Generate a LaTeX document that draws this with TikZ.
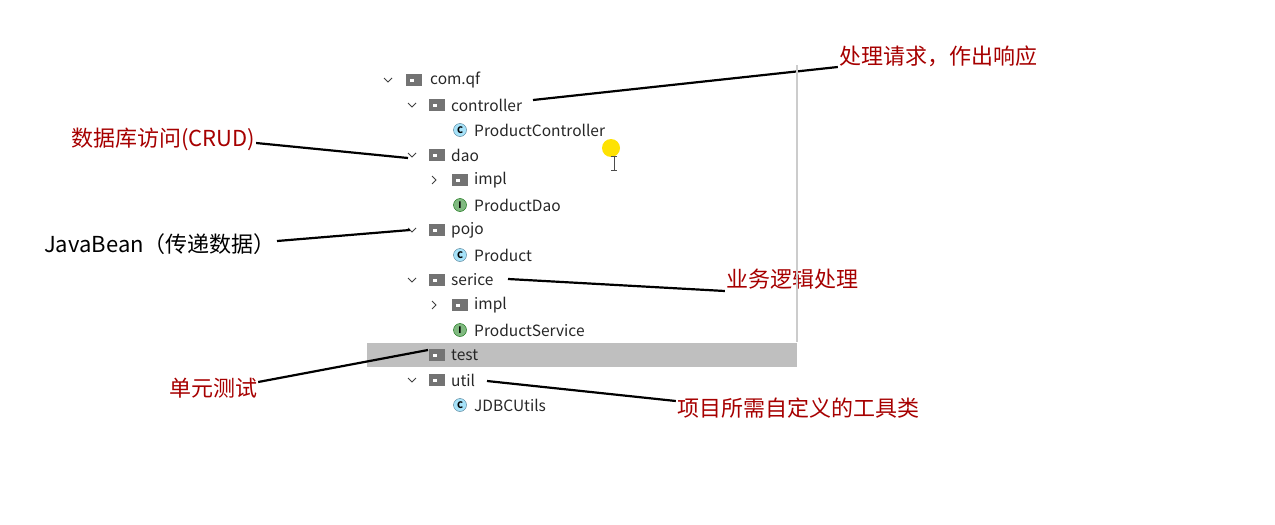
\documentclass[tikz,border=0pt]{standalone}
\usepackage{fontspec}
\setmainfont{Noto Sans CJK SC}
\begin{document}
\begin{tikzpicture}[x=1pt,y=-1pt,
  item/.style={anchor=west,font=\fontsize{15.5}{17}\selectfont,text=black!85,inner sep=0pt},
  lbl/.style={font=\fontsize{22}{24}\selectfont,text=red!65!black,inner sep=1pt},
  ptr/.style={line width=2.2pt,black},
  chev/.style={line width=1pt,black!75},
  cicon/.style={circle,draw=cyan!50!black,fill=cyan!35,minimum size=13pt,inner sep=0pt,font=\bfseries\fontsize{9}{9}\selectfont},
  iicon/.style={circle,draw=green!40!black,fill=green!45!black!50,minimum size=13pt,inner sep=0pt,font=\bfseries\fontsize{9}{9}\selectfont}]
\useasboundingbox (0,0) rectangle (1275,525);
\fill[black!25] (367,343) rectangle (797,367);
\newcommand{\fldr}[2]{\fill[black!55] (#1-8,#2-6) rectangle (#1+8,#2+6); \fill[white] (#1-4,#2-1) rectangle (#1,#2+2);}
\newcommand{\dchev}[2]{\draw[chev] (#1-4,#2-2) -- (#1,#2+2) -- (#1+4,#2-2);}
\newcommand{\rchev}[2]{\draw[chev] (#1-2,#2-4) -- (#1+2,#2) -- (#1-2,#2+4);}
\dchev{388}{80}\fldr{414}{80}\node[item] (comqf) at (430,80) {com.qf};
\dchev{412}{105}\fldr{437}{105}\node[item] (ctrl) at (451,105) {controller};
\node[cicon] (ic1) at (460,130) {C};\node[item] (pc) at (474,130) {ProductController};
\dchev{412}{155}\fldr{437}{155}\node[item] (dao) at (451,155) {dao};
\rchev{434}{180}\fldr{460}{180}\node[item] (impl1) at (474,180) {impl};
\node[iicon] (ic2) at (460,205) {I};\node[item] (pd) at (474,205) {ProductDao};
\dchev{412}{230}\fldr{437}{230}\node[item] (pojo) at (451,230) {pojo};
\node[cicon] (ic3) at (460,255) {C};\node[item] (prod) at (474,255) {Product};
\dchev{412}{280}\fldr{437}{280}\node[item] (serice) at (451,280) {serice};
\rchev{434}{305}\fldr{460}{305}\node[item] (impl2) at (474,305) {impl};
\node[iicon] (ic4) at (460,330) {I};\node[item] (ps) at (474,330) {ProductService};
\fldr{437}{355}\node[item] (test) at (451,355) {test};
\dchev{412}{380}\fldr{437}{380}\node[item] (util) at (451,380) {util};
\node[cicon] (ic5) at (460,405) {C};\node[item] (jdbc) at (474,405) {JDBCUtils};
\fill[yellow!85!orange] (611,148) circle (9);
\draw[black!70,line width=0.8pt] (614,156) -- (614,170) (611,156) -- (617,156) (611,170) -- (617,170);
\node[lbl] (l1) at (938,56) {处理请求，作出响应};
\node[lbl] (l2) at (163,139) {数据库访问(CRUD)};
\node[lbl,text=black] (l3) at (160,244) {JavaBean（传递数据）};
\node[lbl] (l4) at (792,279) {业务逻辑处理};
\node[lbl] (l5) at (213,388) {单元测试};
\node[lbl] (l6) at (798,408) {项目所需自定义的工具类};
\coordinate (c1) at (533,100);\coordinate (c2) at (408,158);\coordinate (c3) at (410,230);
\coordinate (c4) at (508,279);\coordinate (c5) at (428,350);\coordinate (c6) at (487,381);
\draw[ptr] (c1) -- (l1.west |- 0,67);
\draw[ptr] (l2.east |- 0,143) -- (c2);
\draw[ptr] (l3.east |- 0,241) -- (c3);
\draw[ptr] (c4) -- (l4.west |- 0,291);
\draw[ptr] (l5.east |- 0,382) -- (c5);
\draw[ptr] (c6) -- (l6.west |- 0,401);
\draw[black!20,line width=2pt] (797,65) -- (797,342);
\end{tikzpicture}
\end{document}
